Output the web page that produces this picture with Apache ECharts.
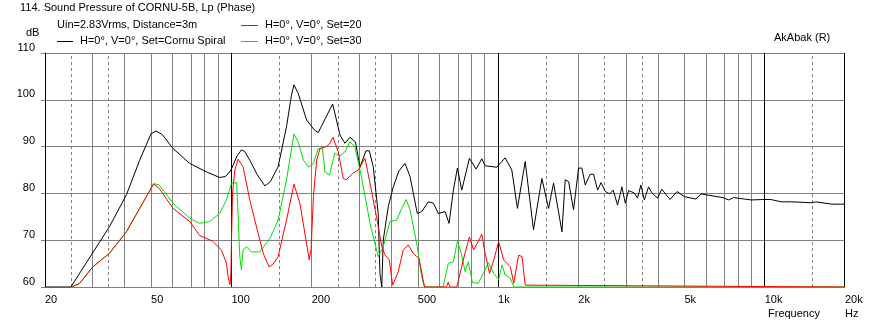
<!DOCTYPE html>
<html>
<head>
<meta charset="utf-8">
<script src="https://cdn.jsdelivr.net/npm/echarts@6/dist/echarts.min.js"></script>
<style>
  html, body { margin: 0; padding: 0; background: #fff; }
  #chart { width: 872px; height: 326px; }
</style>
</head>
<body>
<div id="chart"></div>
<script>
// frequency (Hz), level (dB)
var blackData = [[20,60],[25,60],[29.8,66.8],[34.9,72.9],[40.4,79.7],[45.3,87.1],[50,92.8],[52.3,93.3],[55,92.6],[60.4,89.6],[69.8,86.4],[80.6,84.6],[90.4,83.4],[95,83.6],[99.7,85],[105,88],[109.1,89.3],[112,89],[117.2,87.1],[125,84],[133.5,81.6],[140,82.5],[149.7,85.7],[161,94.3],[168,101],[171.6,103.2],[178,101.4],[191.4,95.7],[205,93.5],[211.7,93],[225,96],[239.7,99.1],[247,96],[255.3,92.5],[266.6,90.7],[278.3,92],[292,91],[303.4,85.6],[319.6,89.1],[328.9,89.1],[340.4,85.7],[355.3,75.7],[360.6,62.9],[366.5,60],[371,70],[387.7,77.2],[404.6,81.4],[425,84.8],[447.7,86.4],[467.6,83.6],[497.9,75.7],[517,76.1],[547.6,78.2],[572,77.9],[597,75.7],[632.6,76.1],[655,73.6],[679.9,80.7],[703.9,85.4],[731,80.7],[780.7,87.5],[827.4,85.2],[869,87.4],[894,85.9],[989,85.6],[1063,87.6],[1126,85],[1182,76.8],[1264,86.8],[1358,72.2],[1460,83.2],[1546,76.8],[1615,82.2],[1736,71.8],[1786,82.9],[1840,82.5],[1919,76.5],[2004,85.4],[2064,85.4],[2123,81.8],[2217,84.1],[2281,84.1],[2362,80.7],[2433,82.3],[2525,80.4],[2622,79.9],[2702,80.7],[2806,77.5],[2914,81.4],[3000,77.9],[3086,80.6],[3240,80.1],[3335,79],[3433,81.8],[3535,78.6],[3668,81.4],[3778,80.1],[3960,79],[4112,80.9],[4414,78.7],[4690,80.4],[4996,79.3],[5525,78.8],[5771,79.9],[6030,79.7],[6965,79.1],[7330,78.6],[7630,79.1],[8370,78.8],[8900,78.6],[9960,78.7],[10530,78.7],[11540,78.2],[12600,78.2],[15080,78],[15520,78.2],[17860,77.7],[20000,77.7]];
var redData = [[25.2,60],[27,60.8],[30.2,64.3],[34.9,67.2],[40.4,71.8],[45.3,76.8],[51.1,82],[53.6,81.1],[60.4,76.8],[69.8,74],[76,71],[85,69.8],[91.8,67.9],[95.8,65.1],[97.2,62.2],[98.8,60.5],[99.6,63],[100.1,70],[101,80],[103,85],[105.9,87.3],[110.6,85.7],[117.2,78.6],[125.9,71.5],[132,67],[138.5,64.3],[143,64.8],[149.7,66.5],[161,74.3],[171.6,82],[180.6,77.9],[189.6,70.7],[195.8,65.8],[199,68],[203,79.3],[208.8,87.1],[215,89.6],[226.7,90],[233,90.5],[240.5,92],[251.6,88.9],[262.7,83.2],[269,82.9],[285.6,84.3],[299,85],[317,87.5],[331,82.2],[350,75],[366.5,68.6],[377,66.8],[390.9,65.8],[402.5,60.4],[407,60],[422.5,63.3],[441,67.9],[460.5,69],[480.3,67.2],[505,66.1],[530,60],[640,60],[650,61],[660,60],[700,60],[741,65.8],[780.7,70.7],[810,67.9],[835,69.3],[869,71.3],[894,67.2],[929,62.9],[964,65.8],[1005,69.7],[1049,65.8],[1112,64.3],[1145,60.8],[1194,66.8],[1230,66.5],[1264,60.4],[1280,60],[20000,60]];
var greenData = [[25.2,60],[27,60.8],[30.2,64.3],[34.9,67.2],[40.4,71.8],[45.3,76.8],[51.1,82.1],[53.6,81.8],[60.4,77.9],[69.8,74.7],[76,73.6],[82.9,74],[90.4,75.7],[95.8,78.6],[100.1,82.2],[101.5,82.5],[104.6,82.3],[105.9,75.7],[107.5,66.5],[109.1,63.6],[110.6,67.9],[113.9,68.6],[119,67.5],[127.6,67.5],[139.5,70.4],[149.7,74.3],[161,82.9],[171.6,92.7],[178,91],[186.2,87.1],[194.8,85.6],[203,86.4],[211.7,89.6],[219.7,89.6],[224.3,84.6],[233.4,83.9],[243.9,88.6],[255.3,88],[266.6,88.9],[278.3,91],[290.5,90],[307.4,83.6],[331,73.6],[355.3,66.5],[371,68.6],[393,74],[416.8,74.3],[435.4,76.8],[452,78.7],[467.6,76.5],[497.9,68.6],[517,62.2],[530,60],[622,60],[651,65.1],[680,65.4],[704,69.8],[731,66.8],[752,63.3],[773,65.4],[802,60.9],[842,60.8],[881,62.9],[920,65.2],[964,62.9],[1005,61.6],[1035,64.7],[1063,62.6],[1112,61.9],[1145,60],[20000,60]];

var freqLabels = [20,50,100,200,500,1000,2000,5000,10000,20000];
var freqLabelText = ['20','50','100','200','500','1k','2k','5k','10k','20k'];
var gridSolid = [30,40,50,60,70,80,90,200,300,400,500,600,700,800,900,2000,3000,4000,5000,6000,7000,8000,9000];
var gridDashed = [25,35,150,250,350,1500,2500,3500,15000];
var gridMajor = [100,1000,10000,20000];

var FONT = 'Liberation Sans';
function lg(p){ return [Math.log10(p[0]), p[1]]; }

var chart = echarts.init(document.getElementById('chart'));

var lines = [];
gridSolid.forEach(function(f){ lines.push({xAxis: Math.log10(f), lineStyle:{color:'#808080', type:'solid', width:1}}); });
gridDashed.forEach(function(f){ lines.push({xAxis: Math.log10(f), lineStyle:{color:'#808080', type:[3,3], width:1}}); });
gridMajor.forEach(function(f){ lines.push({xAxis: Math.log10(f), lineStyle:{color:'#000', type:'solid', width:1}}); });

var option = {
    backgroundColor: '#fff',
    animation: false,
    grid: { left: 45, right: 27, top: 53, bottom: 39, containLabel: false },
    xAxis: {
        type: 'value',
        min: Math.log10(20),
        max: Math.log10(20000),
        axisLine: { show: true, lineStyle: { color: '#808080' } },
        axisTick: { show: false },
        splitLine: { show: false },
        axisLabel: {
            customValues: freqLabels.map(function(f){ return Math.log10(f); }),
            formatter: function(v){
                var i = freqLabels.findIndex(function(f){ return Math.abs(Math.log10(f) - v) < 1e-6; });
                return i >= 0 ? freqLabelText[i] : '';
            },
            align: 'left',
            margin: 7,
            color: '#000',
            fontFamily: FONT,
            fontSize: 11
        }
    },
    yAxis: {
        type: 'value',
        min: 60,
        max: 110,
        interval: 10,
        axisLine: { show: true, lineStyle: { color: '#000' } },
        axisTick: { show: true, length: 4, lineStyle: { color: '#808080' } },
        splitLine: { show: true, lineStyle: { color: '#808080', width: 1 } },
        axisLabel: {
            margin: 10,
            color: '#000',
            fontFamily: FONT,
            fontSize: 11,
            verticalAlign: 'bottom'
        }
    },
    graphic: [
        { type: 'text', style: { text: '114. Sound Pressure of CORNU-5B, Lp (Phase)', x: 20, y: 8, verticalAlign: 'middle', font: '11px "Liberation Sans"', fill: '#000' } },
        { type: 'text', style: { text: 'Uin=2.83Vrms, Distance=3m', x: 57, y: 25, verticalAlign: 'middle', font: '11px "Liberation Sans"', fill: '#000' } },
        { type: 'text', style: { text: 'dB', x: 26, y: 33, verticalAlign: 'middle', font: '11px "Liberation Sans"', fill: '#000' } },
        { type: 'line', shape: { x1: 57, y1: 41.5, x2: 73, y2: 41.5 }, style: { stroke: '#000', lineWidth: 1 } },
        { type: 'text', style: { text: 'H=0°, V=0°, Set=Cornu Spiral', x: 80, y: 41, verticalAlign: 'middle', font: '11px "Liberation Sans"', fill: '#000' } },
        { type: 'line', shape: { x1: 241, y1: 25.5, x2: 258, y2: 25.5 }, style: { stroke: '#ff0000', lineWidth: 1 } },
        { type: 'text', style: { text: 'H=0°, V=0°, Set=20', x: 265, y: 25, verticalAlign: 'middle', font: '11px "Liberation Sans"', fill: '#000' } },
        { type: 'line', shape: { x1: 241, y1: 41.5, x2: 258, y2: 41.5 }, style: { stroke: '#00dd00', lineWidth: 1 } },
        { type: 'text', style: { text: 'H=0°, V=0°, Set=30', x: 265, y: 41, verticalAlign: 'middle', font: '11px "Liberation Sans"', fill: '#000' } },
        { type: 'text', style: { text: 'AkAbak (R)', x: 774, y: 38, verticalAlign: 'middle', font: '11px "Liberation Sans"', fill: '#000' } },
        { type: 'text', style: { text: 'Frequency', x: 768, y: 314, verticalAlign: 'middle', font: '11px "Liberation Sans"', fill: '#000' } },
        { type: 'text', style: { text: 'Hz', x: 845, y: 314, verticalAlign: 'middle', font: '11px "Liberation Sans"', fill: '#000' } }
    ],
    series: [
        {
            name: 'H=0°, V=0°, Set=Cornu Spiral',
            type: 'line',
            data: blackData.map(lg),
            showSymbol: false,
            z: 3,
            lineStyle: { color: '#000', width: 1 },
            markLine: { silent: true, symbol: 'none', z: 1, label: { show: false }, data: lines, animation: false }
        },
        {
            name: 'H=0°, V=0°, Set=30',
            type: 'line',
            data: greenData.map(lg),
            showSymbol: false,
            z: 4,
            lineStyle: { color: '#00dd00', width: 1 }
        },
        {
            name: 'H=0°, V=0°, Set=20',
            type: 'line',
            data: redData.map(lg),
            showSymbol: false,
            z: 5,
            lineStyle: { color: '#ff0000', width: 1 }
        }
    ]
};
chart.setOption(option);
window.addEventListener('resize', function(){ chart.resize(); });
</script>
</body>
</html>
